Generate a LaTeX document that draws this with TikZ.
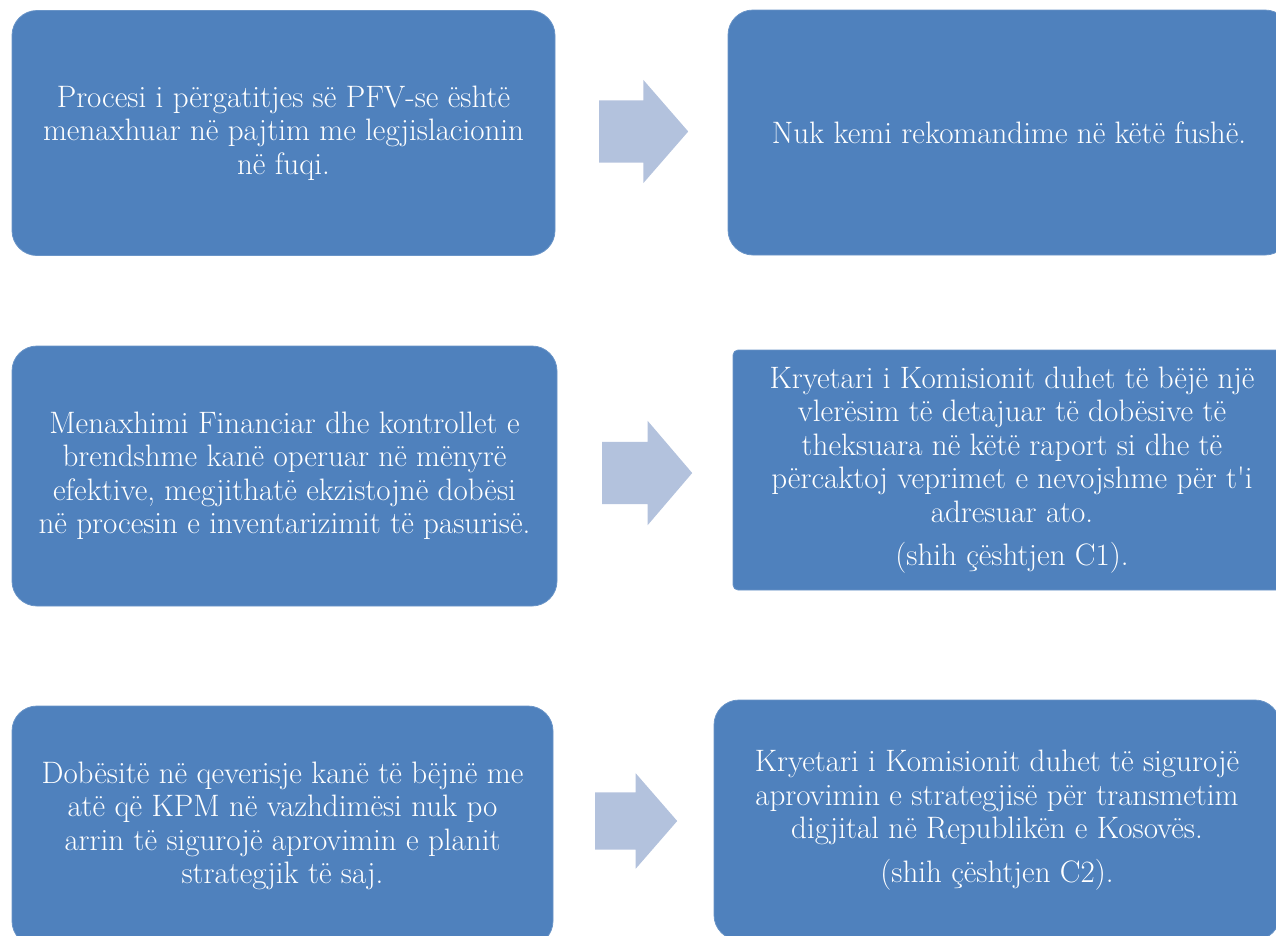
\documentclass[tikz,border=0pt]{standalone}
\usepackage{xcolor}
\usetikzlibrary{shapes.arrows, positioning}

\definecolor{boxblue}{HTML}{4F81BD}
\definecolor{arrowblue}{HTML}{B3C2DD}

\begin{document}
\begin{tikzpicture}[
        x=1pt, y=-1pt,
        box/.style={rectangle, fill=boxblue, draw=boxblue!85!white, line width=0.8pt, rounded corners=25pt, align=center, text=white, inner sep=0pt, font=\fontsize{31}{33.5}\selectfont},
        sharpbox/.style={box, rounded corners=5pt},
        blockarrow/.style={single arrow, anchor=tail, fill=arrowblue, draw=none, inner sep=0pt, text height=31pt, text depth=31pt, single arrow head indent=0pt}
    ]
        \clip (0,0) rectangle (1276,935);

        % Row 1
        \node[box, minimum width=543, minimum height=245] (find1) at (283.5,133)
            {Procesi i përgatitjes së PFV-se është\\menaxhuar në pajtim me legjislacionin\\në fuqi.};
        \node[box, minimum width=562, minimum height=245] (rec1) at (1009,132.5)
            {Nuk kemi rekomandime në këtë fushë.};

        % Row 2
        \node[box, minimum width=545, minimum height=260] (find2) at (284.5,476)
            {Menaxhimi Financiar dhe kontrollet e\\brendshme kanë operuar në mënyrë\\efektive, megjithatë ekzistojnë dobësi\\në procesin e inventarizimit të pasurisë.};
        \node[sharpbox, minimum width=558, minimum height=240] (rec2) at (1012,470)
            {Kryetari i Komisionit duhet të bëjë një\\vlerësim të detajuar të dobësive të\\theksuara në këtë raport si dhe të\\përcaktoj veprimet e nevojshme për t\textquotesingle i\\adresuar ato.\\[10pt](shih çështjen C1).};

        % Row 3
        \node[box, minimum width=541, minimum height=240] (find3) at (282.5,826)
            {Dobësitë në qeverisje kanë të bëjnë me\\atë që KPM në vazhdimësi nuk po\\arrin të sigurojë aprovimin e planit\\strategjik të saj.};
        \node[box, minimum width=566, minimum height=240] (rec3) at (997,820)
            {Kryetari i Komisionit duhet të sigurojë\\aprovimin e strategjisë për transmetim\\digjital në Republikën e Kosovës.\\[10pt](shih çështjen C2).};

        % Arrows
        \node[blockarrow, minimum height=89, single arrow head extend=20.5, single arrow tip angle=98] (arr1) at (599,131.5) {};
        \node[blockarrow, minimum height=90, single arrow head extend=21, single arrow tip angle=99] (arr2) at (602,473) {};
        \node[blockarrow, minimum height=82, text height=28.5pt, text depth=28.5pt, single arrow head extend=19, single arrow tip angle=98] (arr3) at (595,821) {};
    \end{tikzpicture}
\end{document}
